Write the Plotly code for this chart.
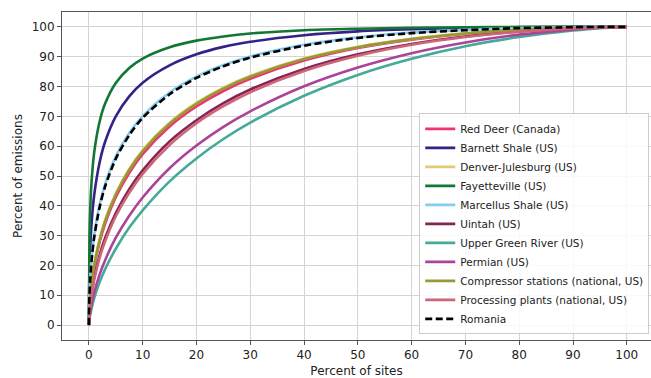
import plotly.graph_objects as go

# Percent of sites (shared x for all curves)
sites_pct = [0, 0.1, 0.25, 0.5, 1, 2, 3, 5, 7.5, 10, 15, 20, 25, 30, 40, 50, 60, 70, 80, 90, 95, 100]

# Percent of emissions
red_deer = [0, 5.2, 9.0, 13.3, 19.5, 27.8, 33.9, 42.9, 51.0, 57.3, 66.6, 73.3, 78.5, 82.6, 88.7, 92.9, 95.7, 97.7, 99.0, 99.7, 99.9, 100]
barnett = [0, 17.9, 26.2, 34.2, 43.8, 54.6, 61.4, 70.0, 76.7, 81.3, 87.1, 90.8, 93.3, 95.0, 97.2, 98.5, 99.2, 99.6, 99.9, 100.0, 100.0, 100]
denver_julesburg = [0, 5.6, 9.6, 14.1, 20.5, 28.9, 35.2, 44.2, 52.4, 58.7, 67.9, 74.5, 79.6, 83.6, 89.4, 93.3, 96.0, 97.9, 99.0, 99.7, 99.9, 100]
fayetteville = [0, 28.8, 39.1, 48.2, 58.1, 68.3, 74.2, 81.2, 86.2, 89.4, 93.2, 95.4, 96.8, 97.8, 98.9, 99.4, 99.7, 99.9, 100.0, 100.0, 100.0, 100]
marcellus = [0, 10.1, 16.0, 22.2, 30.3, 40.4, 47.2, 56.6, 64.4, 70.1, 78.0, 83.3, 87.2, 90.1, 94.0, 96.5, 98.1, 99.0, 99.6, 99.9, 100.0, 100]
uintah = [0, 3.9, 7.0, 10.6, 16.0, 23.5, 29.1, 37.6, 45.6, 51.9, 61.6, 68.7, 74.4, 79.0, 85.9, 90.8, 94.3, 96.8, 98.5, 99.6, 99.9, 100]
upper_green_river = [0, 1.8, 3.5, 5.6, 9.1, 14.4, 18.7, 25.6, 32.7, 38.5, 48.2, 55.9, 62.4, 67.9, 76.9, 83.9, 89.3, 93.5, 96.6, 98.8, 99.6, 100]
permian = [0, 2.3, 4.4, 7.0, 11.0, 17.0, 21.7, 29.3, 36.7, 42.8, 52.6, 60.2, 66.5, 71.7, 80.1, 86.4, 91.2, 94.8, 97.4, 99.1, 99.7, 100]
compressor = [0, 5.5, 9.4, 13.9, 20.2, 28.6, 34.8, 43.8, 52.0, 58.3, 67.5, 74.2, 79.3, 83.3, 89.2, 93.2, 95.9, 97.8, 99.0, 99.7, 99.9, 100]
processing = [0, 3.7, 6.6, 10.1, 15.2, 22.6, 28.0, 36.5, 44.4, 50.7, 60.4, 67.7, 73.4, 78.1, 85.2, 90.3, 94.0, 96.6, 98.4, 99.5, 99.8, 100]
romania = [0, 9.7, 15.4, 21.6, 29.6, 39.6, 46.4, 55.8, 63.7, 69.5, 77.4, 82.9, 86.8, 89.7, 93.7, 96.3, 97.9, 98.9, 99.6, 99.9, 100.0, 100]

series_names = [
    "Red Deer (Canada)", "Barnett Shale (US)", "Denver-Julesburg (US)", "Fayetteville (US)",
    "Marcellus Shale (US)", "Uintah (US)", "Upper Green River (US)", "Permian (US)",
    "Compressor stations (national, US)", "Processing plants (national, US)", "Romania",
]
series_values = [red_deer, barnett, denver_julesburg, fayetteville, marcellus, uintah,
                 upper_green_river, permian, compressor, processing, romania]
series_colors = ["#EE3377", "#332288", "#DDCC77", "#117733", "#88CCEE", "#882255",
                 "#44AA99", "#AA4499", "#999933", "#CC6677", "#000000"]

tick_vals = list(range(0, 101, 10))

fig = go.Figure()
for name, vals, col in zip(series_names, series_values, series_colors):
    dash = "7px,3.5px" if name == "Romania" else "solid"
    fig.add_trace(go.Scatter(
        x=sites_pct, y=vals, name=name, mode="lines",
        line=dict(color=col, width=2.6, dash=dash, shape="spline", smoothing=0.8),
    ))

font_family = "DejaVu Sans, Arial, sans-serif"
fig.update_layout(
    width=651, height=378,
    margin=dict(l=62, r=0, t=12, b=38),
    paper_bgcolor="white", plot_bgcolor="white",
    font=dict(family=font_family, size=12, color="#222222"),
    showlegend=True,
    legend=dict(
        x=0.997, xanchor="right", y=0.017, yanchor="bottom",
        bgcolor="rgba(255,255,255,0.85)", bordercolor="#cccccc", borderwidth=1,
        font=dict(size=10.5, family=font_family, color="#222222"),
        itemwidth=30, tracegroupgap=0,
    ),
    xaxis=dict(
        range=[-5, 104.5], tickvals=tick_vals, ticktext=[str(v) for v in tick_vals],
        showgrid=True, gridcolor="#d4d4d4", gridwidth=1, zeroline=False,
        showline=True, linecolor="#555555", linewidth=1, mirror=True,
        ticks="outside", ticklen=4, tickcolor="#555555",
        title=dict(text="Percent of sites", standoff=10, font=dict(size=12)),
        automargin=False,
    ),
    yaxis=dict(
        range=[-5, 105], tickvals=tick_vals, ticktext=[str(v) for v in tick_vals],
        showgrid=True, gridcolor="#d4d4d4", gridwidth=1, zeroline=False,
        showline=True, linecolor="#555555", linewidth=1, mirror=False,
        ticks="outside", ticklen=4, tickcolor="#555555",
        title=dict(text="Percent of emissions", standoff=6, font=dict(size=12)),
        automargin=False,
    ),
)

fig.write_html("out.html")
